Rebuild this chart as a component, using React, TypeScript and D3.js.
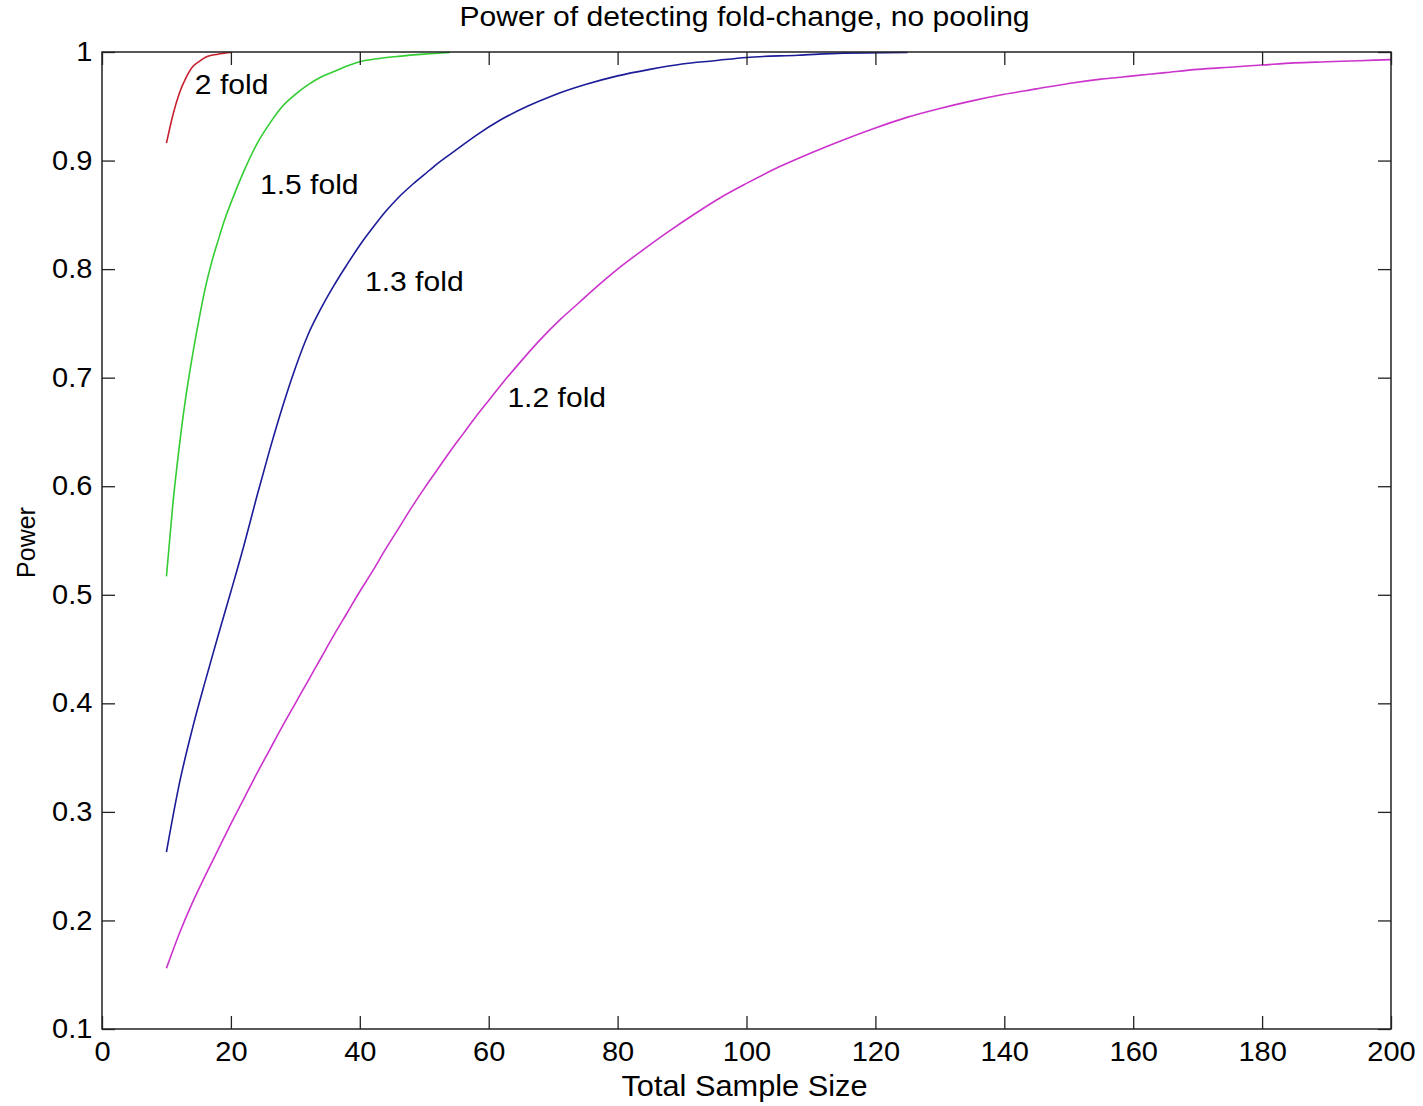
import React, { useEffect, useRef } from 'react';
import * as d3 from 'd3';

// values, [total sample size, power]
const fold2: [number, number][] = [
  [10, 0.916], [11, 0.942], [12, 0.962], [13, 0.976], [14, 0.986], [15, 0.991],
  [16, 0.995], [17, 0.997], [18, 0.998], [19, 0.999], [20, 0.9995],
];

const fold15: [number, number][] = [
  [10, 0.517], [11, 0.584], [12, 0.637], [13, 0.682], [14, 0.719], [15, 0.752],
  [16, 0.782], [17, 0.806], [18, 0.826], [19, 0.845], [20, 0.861], [22, 0.890],
  [24, 0.915], [26, 0.934], [28, 0.950], [30, 0.961], [32, 0.970], [34, 0.977],
  [36, 0.982], [38, 0.987], [40, 0.991], [43, 0.994], [46, 0.996], [50, 0.998],
  [54, 0.9995],
];

const fold13: [number, number][] = [
  [10, 0.263], [12, 0.326], [14, 0.376], [16, 0.420], [18, 0.462], [20, 0.503],
  [22, 0.545], [24, 0.590], [26, 0.633], [28, 0.673], [30, 0.709], [32, 0.740],
  [34, 0.764], [36, 0.785], [38, 0.804], [40, 0.822], [42, 0.838], [44, 0.853],
  [46, 0.866], [48, 0.877], [50, 0.887], [52, 0.897], [55, 0.910], [58, 0.923],
  [62, 0.938], [66, 0.950], [70, 0.960], [75, 0.970], [80, 0.978], [85, 0.984],
  [90, 0.989], [95, 0.992], [100, 0.995], [108, 0.997], [115, 0.999], [125, 0.9995],
];

const fold12: [number, number][] = [
  [10, 0.156], [12, 0.188], [14, 0.216], [16, 0.241], [18, 0.265], [20, 0.289],
  [22, 0.312], [24, 0.335], [26, 0.357], [28, 0.379], [30, 0.400], [32, 0.421],
  [34, 0.442], [36, 0.463], [38, 0.483], [40, 0.503], [42, 0.522], [44, 0.542],
  [46, 0.561], [48, 0.580], [50, 0.598], [52, 0.615], [54, 0.632], [56, 0.648],
  [58, 0.664], [60, 0.679], [62, 0.694], [65, 0.715], [68, 0.735], [71, 0.753],
  [74, 0.769], [77, 0.785], [80, 0.800], [84, 0.818], [88, 0.835], [92, 0.851],
  [96, 0.866], [100, 0.879], [105, 0.894], [110, 0.907], [115, 0.919], [120, 0.930],
  [125, 0.940], [130, 0.948], [135, 0.955], [140, 0.961], [145, 0.966], [150, 0.971],
  [155, 0.975], [160, 0.978], [165, 0.981], [170, 0.984], [175, 0.986], [180, 0.988],
  [185, 0.990], [190, 0.991], [195, 0.992], [200, 0.993],
];

const seriesNames = ['2 fold', '1.5 fold', '1.3 fold', '1.2 fold'];
const seriesData = [fold2, fold15, fold13, fold12];
const seriesColors = ['#c8202f', '#33cc33', '#1c1c99', '#cc33cc'];
// label anchor points, in data units
const labelX = [14.4, 24.5, 40.8, 62.9];
const labelY = [0.968, 0.876, 0.787, 0.680];

const xTicks = [0, 20, 40, 60, 80, 100, 120, 140, 160, 180, 200];
const yTicks = [0.1, 0.2, 0.3, 0.4, 0.5, 0.6, 0.7, 0.8, 0.9, 1];

const title = 'Power of detecting fold-change, no pooling';
const xLabel = 'Total Sample Size';
const yLabel = 'Power';

const width = 1423;
const height = 1106;
const margin = { left: 102, right: 32, top: 52, bottom: 77 };
const font = '"Liberation Sans", Arial, sans-serif';
// the reference text is a little wider than it is tall
const stretch = 1.075;

export default function App() {
  const xAxisRef = useRef<SVGGElement>(null);
  const yAxisRef = useRef<SVGGElement>(null);
  const xTopRef = useRef<SVGGElement>(null);
  const yRightRef = useRef<SVGGElement>(null);

  const drawW = width - margin.left - margin.right;
  const drawH = height - margin.top - margin.bottom;

  const xScale = d3.scaleLinear().domain([0, 200]).range([0, drawW]);
  const yScale = d3.scaleLinear().domain([0.1, 1]).range([drawH, 0]);

  const line = d3.line<[number, number]>()
    .x((d) => xScale(d[0]))
    .y((d) => yScale(d[1]))
    .curve(d3.curveMonotoneX);

  useEffect(() => {
    const tick = 13;
    const styleAxis = (sel: any) => {
      sel.select('.domain').remove();
      sel.selectAll('line').attr('stroke', '#222').attr('stroke-width', 1.3);
      sel.selectAll('text')
        .attr('font-family', font)
        .attr('font-size', 27)
        .attr('fill', '#000');
    };

    d3.select(xAxisRef.current)
      .call(d3.axisBottom(xScale).tickValues(xTicks).tickSize(-tick).tickSizeOuter(0)
        .tickPadding(13).tickFormat(d3.format('d')))
      .call(styleAxis)
      .selectAll('text').attr('transform', `scale(${stretch}, 1)`);

    d3.select(yAxisRef.current)
      .call(d3.axisLeft(yScale).tickValues(yTicks).tickSize(-tick).tickSizeOuter(0)
        .tickPadding(9).tickFormat((d: any) => String(+d.toFixed(1))))
      .call(styleAxis)
      .selectAll('text').attr('transform', `scale(${stretch}, 1)`);

    d3.select(xTopRef.current)
      .call(d3.axisTop(xScale).tickValues(xTicks).tickSize(-tick).tickSizeOuter(0).tickFormat(() => ''))
      .call(styleAxis);

    d3.select(yRightRef.current)
      .call(d3.axisRight(yScale).tickValues(yTicks).tickSize(-tick).tickSizeOuter(0).tickFormat(() => ''))
      .call(styleAxis);
  }, []);

  return (
    <svg width={width} height={height} style={{ position: 'absolute', left: 0, top: 0, background: '#fff' }}>
      <rect width={width} height={height} fill="#fff" />
      <g transform={`translate(${margin.left}, ${margin.top})`}>
        {seriesData.map((d, i) => (
          <path key={seriesNames[i]} d={line(d) || ''} fill="none"
            stroke={seriesColors[i]} strokeWidth={1.6} />
        ))}
        {seriesNames.map((name, i) => (
          <text key={name}
            transform={`translate(${xScale(labelX[i])}, ${yScale(labelY[i])}) scale(${stretch}, 1)`}
            dominantBaseline="middle" fontFamily={font} fontSize={28} fill="#000">
            {name}
          </text>
        ))}
        <rect x={0} y={0} width={drawW} height={drawH} fill="none" stroke="#222" strokeWidth={1.5} />
        <g ref={xTopRef} />
        <g ref={yRightRef} transform={`translate(${drawW}, 0)`} />
      </g>

      {/* Axes */}
      <g ref={xAxisRef} transform={`translate(${margin.left}, ${height - margin.bottom})`} />
      <g ref={yAxisRef} transform={`translate(${margin.left}, ${margin.top})`} />

      <text transform={`translate(${margin.left + drawW / 2 - 2}, 19) scale(${stretch}, 1)`}
        textAnchor="middle" dominantBaseline="middle" fontFamily={font} fontSize={28}>{title}</text>
      <text transform={`translate(${margin.left + drawW / 2 - 2}, 1088) scale(1.06, 1)`}
        textAnchor="middle" dominantBaseline="middle" fontFamily={font} fontSize={29}>{xLabel}</text>
      <text transform={`translate(28, ${margin.top + drawH / 2 + 2}) rotate(-90)`} textAnchor="middle"
        dominantBaseline="middle" fontFamily={font} fontSize={25}>{yLabel}</text>
    </svg>
  );
}
